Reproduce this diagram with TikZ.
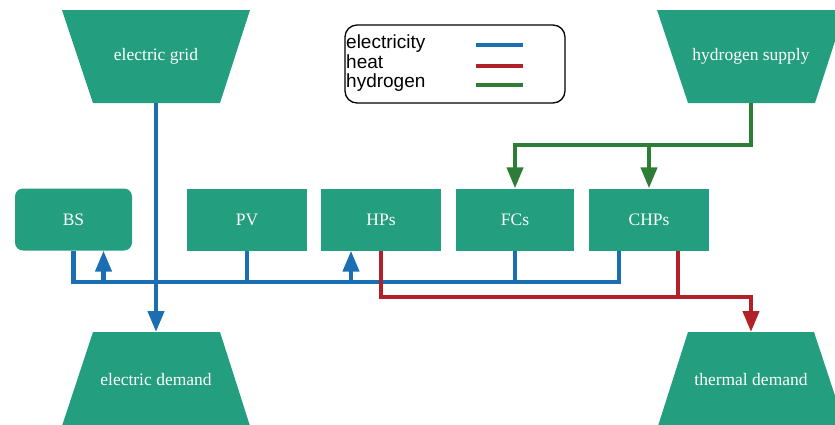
\documentclass[tikz,border=0pt]{standalone}
\usepackage{fontspec}
\setmainfont{Liberation Serif}
\newfontfamily\legfont{Liberation Sans}
\usetikzlibrary{arrows.meta,calc}
\definecolor{boxgreen}{RGB}{35,158,126}
\definecolor{elecblue}{RGB}{28,110,178}
\definecolor{heatred}{RGB}{178,32,40}
\definecolor{hydgreen}{RGB}{46,125,54}
\tikzset{
  unit/.style={fill=boxgreen,draw=none,minimum width=120pt,minimum height=62pt,inner sep=0pt,
    text=white,font=\fontsize{17.5}{20}\selectfont},
  trap/.style={fill=boxgreen,draw=none},
  traplabel/.style={text=white,font=\fontsize{17.5}{20}\selectfont,inner sep=0pt},
  flow/.style={line width=4.3pt},
  elec/.style={flow,draw=elecblue},
  heat/.style={flow,draw=heatred},
  hyd/.style={flow,draw=hydgreen},
  tip/.style={-{Triangle[length=21pt,width=16pt]}},
  legtext/.style={anchor=base west,inner sep=0pt,font=\legfont\fontsize{19}{20}\selectfont},
}
\begin{document}
\begin{tikzpicture}[x=1pt,y=-1pt]
\clip (0,0) rectangle (835,424);
\useasboundingbox (0,0) rectangle (835,424);
% trapezoids
\fill[trap] (62,10) -- (250,10) -- (220,103) -- (93,103) -- cycle;
\node[traplabel] (grid) at (156,56) {electric grid};
\coordinate (gridb) at (156,103);
\fill[trap] (657,10) -- (845,10) -- (815,103) -- (688,103) -- cycle;
\node[traplabel] (h2) at (751,56) {hydrogen supply};
\coordinate (h2b) at (751,103);
\fill[trap] (93,332) -- (220,332) -- (250,426) -- (62,426) -- cycle;
\node[traplabel] (edem) at (156,380) {electric demand};
\coordinate (edemt) at (156,332);
\fill[trap] (688,332) -- (814,332) -- (845,426) -- (658,426) -- cycle;
\node[traplabel] (tdem) at (751,380) {thermal demand};
\coordinate (tdemt) at (751,332);
% units
\node[unit,minimum width=117pt,rounded corners=8pt] (bs) at (73.5,219.5) {BS};
\node[unit] (pv) at (247,219.5) {PV};
\node[unit] (hps) at (381,219.5) {HPs};
\node[unit,minimum width=118pt] (fcs) at (515,219.5) {FCs};
\node[unit] (chps) at (649,219.5) {CHPs};
% electricity
\draw[elec] (bs.south) -- ++(0,31) -| ($(chps.south)+(-30,0)$);
\draw[elec] (pv.south) -- ++(0,31);
\draw[elec] (fcs.south) -- ++(0,31);
\draw[elec,tip] ($(bs.south)+(30,31)$) -- ($(bs.south)+(30,0)$);
\draw[elec,tip] ($(hps.south)+(-30,31)$) -- ($(hps.south)+(-30,0)$);
\draw[elec,tip] (gridb) -- (edemt);
% heat
\draw[heat,tip] (hps.south) -- ++(0,46) -| (tdemt);
\draw[heat] ($(chps.south)+(29,0)$) -- ++(0,46);
% hydrogen
\draw[hyd,tip] (h2b) |- ($(fcs.north)+(0,-43)$) -- (fcs.north);
\draw[hyd,tip] ($(chps.north)+(0,-43)$) -- (chps.north);
% legend
\node[draw=black,line width=1.3pt,rounded corners=12pt,minimum width=220pt,minimum height=78pt,inner sep=0pt] (legend) at (455,64) {};
\node[legtext] (l1) at (346,48) {electricity};
\node[legtext] (l2) at (346,68) {heat};
\node[legtext] (l3) at (346,87) {hydrogen};
\coordinate (e1a) at (476,45); \coordinate (e1b) at (523,45);
\coordinate (e2a) at (476,66); \coordinate (e2b) at (523,66);
\coordinate (e3a) at (476,85); \coordinate (e3b) at (523,85);
\draw[elec] (e1a) -- (e1b);
\draw[heat] (e2a) -- (e2b);
\draw[hyd] (e3a) -- (e3b);
\end{tikzpicture}
\end{document}
